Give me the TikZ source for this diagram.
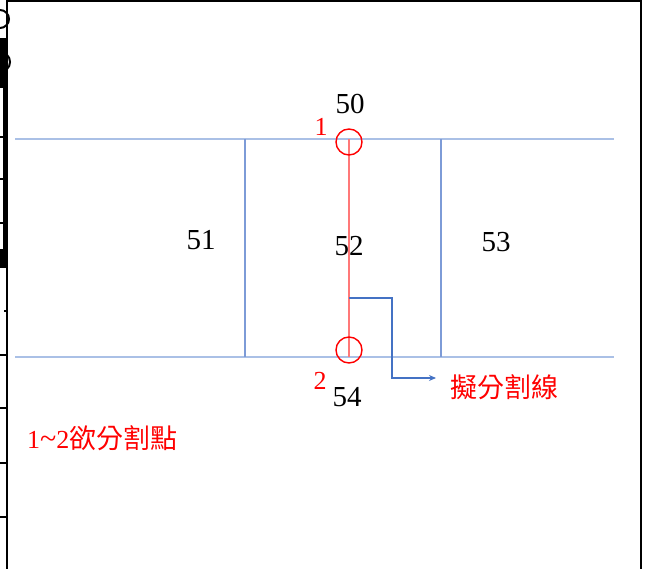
\documentclass[tikz,border=0pt]{standalone}
\usepackage{fontspec}
\usetikzlibrary{arrows.meta}
\setmainfont{Liberation Serif}
\newfontfamily\cjk{Noto Sans CJK TC}
\begin{document}
\begin{tikzpicture}[x=1pt,y=-1pt]
\tikzset{
  gridline/.style={draw={rgb,255:red,170;green,192;blue,230}, line width=1.5pt},
  wallline/.style={draw={rgb,255:red,125;green,155;blue,215}, line width=1.1pt},
  cutline/.style={draw={rgb,255:red,255;green,120;blue,120}, line width=1.2pt},
  pointring/.style={circle, draw=red, line width=1.4pt, minimum size=26pt, inner sep=0pt},
  numlabel/.style={font=\fontsize{29}{31}\selectfont, text=black, inner sep=0pt},
  redlabel/.style={font=\fontsize{26}{28}\selectfont, text=red, inner sep=0pt},
  cjklabel/.style={font=\fontsize{27}{29}\selectfont\cjk, text=red, inner sep=0pt},
  leader/.style={draw={rgb,255:red,68;green,114;blue,196}, line width=1.8pt, -{Stealth[length=7pt,width=6pt]}},
  frameline/.style={draw=black, line width=2pt},
}
\useasboundingbox (0,0) rectangle (646,569);

% outer frame and cut-off table edge on the left
\draw[frameline] (7,0) -- (7,569);
\draw[frameline] (7,1) -- (641,1);
\draw[frameline] (641,0) -- (641,569);
\fill[black] (0,38) rectangle (7,268);
\foreach \yy in {87,137,179,223,355,408,463,517}
  \draw[black, line width=1.6pt] (0,\yy) -- (7,\yy);
\draw[black, line width=1.6pt] (7,311) -- (4,311);
\fill[white] (0,88) rectangle (3,136);
\fill[white] (0,138) rectangle (3,178);
\fill[white] (0,180) rectangle (3,222);
\fill[white] (0,224) rectangle (3,249);
\draw[black, line width=2pt] (0,10) arc[start angle=90, end angle=-90, radius=9pt];
\draw[black, line width=2pt] (0,52) arc[start angle=90, end angle=-90, radius=10pt];

% horizontal boundary lines
\draw[gridline] (15,139) -- (614,139);
\draw[gridline] (15,357) -- (614,357);
% vertical walls
\draw[wallline] (245,139) -- (245,357);
\draw[wallline] (441,139) -- (441,357);

% points 1 and 2 and the cut line between them
\draw[cutline] (349,139) -- (349,357);
\node[pointring] (p1) at (349,142) {};
\node[pointring] (p2) at (349,350) {};

% region numbers
\node[numlabel] (n50) at (350,104) {50};
\node[numlabel] (n51) at (201,240) {51};
\node[numlabel] (n52) at (349,246) {52};
\node[numlabel] (n53) at (496,242) {53};
\node[numlabel] (n54) at (347,397) {54};
\node[redlabel] (l1) at (321,127) {1};
\node[redlabel] (l2) at (320,381) {2};

% leader to the planned cut line label
\coordinate (cutstart) at (349,298);
\coordinate (leadtip) at (436,378);
\node[cjklabel, anchor=west] (cutname) at (450,387) {擬分割線};
\draw[leader] (cutstart) -| (392,378) -- (leadtip);

% note about the split points
\node[redlabel, anchor=west] (note) at (27,438) {1{\fontsize{30}{30}\selectfont\textasciitilde}2{\cjk\fontsize{27}{29}\selectfont 欲分割點}};
\end{tikzpicture}
\end{document}
